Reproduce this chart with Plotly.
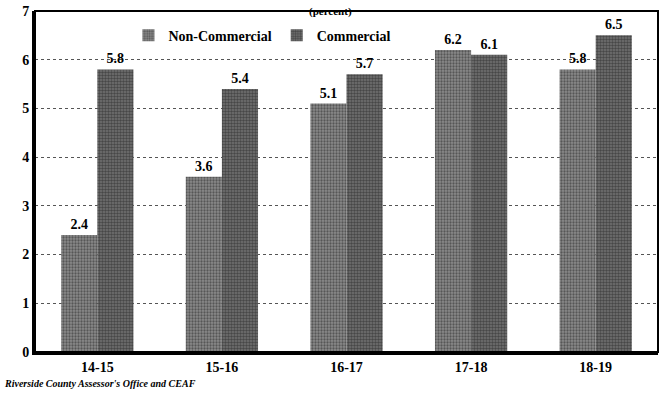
import plotly.graph_objects as go

years = ['14-15', '15-16', '16-17', '17-18', '18-19']
non_commercial = [2.4, 3.6, 5.1, 6.2, 5.8]
commercial = [5.8, 5.4, 5.7, 6.1, 6.5]

serif = 'Liberation Serif, Times New Roman, serif'

fig = go.Figure()
fig.add_trace(
    go.Bar(
        x=years,
        y=non_commercial,
        name='<b>Non-Commercial</b>',
        text=[f'{v:.1f}' for v in non_commercial],
        marker=dict(
            color='#707070',
            line=dict(width=0),
            pattern=dict(shape='.', fgcolor='#222222', bgcolor='#8a8a8a', size=3, solidity=0.45)
        )
    )
)
fig.add_trace(
    go.Bar(
        x=years,
        y=commercial,
        name='<b>Commercial</b>',
        text=[f'{v:.1f}' for v in commercial],
        marker=dict(
            color='#505050',
            line=dict(width=0),
            pattern=dict(shape='.', fgcolor='#1a1a1a', bgcolor='#747474', size=3, solidity=0.55)
        )
    )
)
fig.update_traces(
    textposition='outside',
    cliponaxis=False,
    texttemplate='<b>%{text}</b>',
    textfont=dict(family=serif, size=14, color='black'),
)
fig.update_layout(
    width=662,
    height=398,
    margin=dict(l=35, r=4, t=8, b=46),
    paper_bgcolor='white',
    plot_bgcolor='white',
    font=dict(family=serif, color='black'),
    barmode='group',
    bargap=0.42,
    bargroupgap=0,
    showlegend=True,
    legend=dict(
        x=0.15,
        y=0.975,
        orientation='h',
        xanchor='left',
        yanchor='top',
        font=dict(family=serif, size=14, color='black'),
        bgcolor='rgba(0,0,0,0)',
        itemwidth=30,
        traceorder='normal',
    ),
    yaxis=dict(
        range=[0, 7],
        dtick=1,
        showgrid=True,
        gridcolor='#555555',
        griddash='dot',
        gridwidth=1,
        showline=True,
        linecolor='black',
        linewidth=3,
        ticks='',
        zeroline=False,
        tickprefix='<b>',
        ticksuffix='</b>',
        tickfont=dict(family=serif, size=14, color='black'),
    ),
    xaxis=dict(
        showline=True,
        linecolor='black',
        linewidth=3,
        ticks='',
        tickprefix='<b>',
        ticksuffix='</b>',
        tickfont=dict(family=serif, size=14, color='black'),
    ),
)
# frame round the plot area
fig.add_shape(
    type='rect',
    xref='paper', yref='paper',
    x0=0, x1=1, y0=0, y1=1,
    line=dict(color='black', width=2),
    layer='above',
)
fig.add_annotation(
    text='<b>(percent)</b>',
    x=0.475, y=1.0,
    xref='paper', yref='paper',
    yanchor='bottom',
    yshift=-8,
    borderpad=0,
    showarrow=False,
    font=dict(family=serif, size=11, color='black'),
)
fig.add_annotation(
    text="<b><i>Riverside County Assessor's Office and CEAF</i></b>",
    x=-0.053, y=-0.07,
    xref='paper', yref='paper',
    xanchor='left', yanchor='top',
    showarrow=False,
    font=dict(family=serif, size=10, color='black'),
)

fig.write_html(
    "out.html",
    config={'displayModeBar': False},
    post_script="document.body.style.margin='0';",
)
